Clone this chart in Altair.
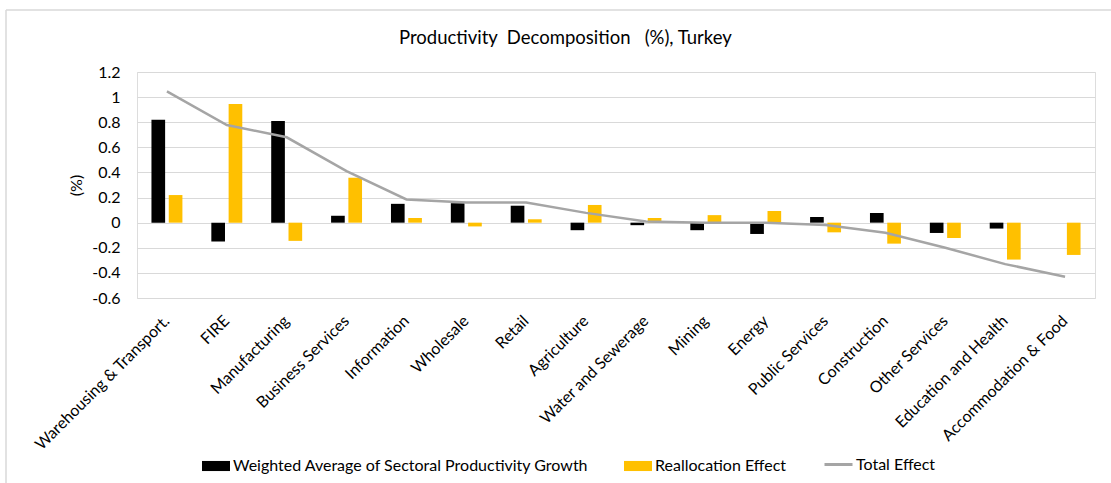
import altair as alt
import pandas as pd

categories = [
    "Warehousing & Transport.", "FIRE", "Manufacturing", "Business Services",
    "Information", "Wholesale", "Retail", "Agriculture", "Water and Sewerage",
    "Mining", "Energy", "Public Services", "Construction", "Other Services",
    "Education and Health", "Accommodation & Food",
]
weighted = [0.82, -0.15, 0.81, 0.055, 0.15, 0.155, 0.135, -0.06, -0.02, -0.06,
            -0.09, 0.045, 0.077, -0.082, -0.047, 0.0]
realloc = [0.22, 0.945, -0.145, 0.358, 0.037, -0.03, 0.027, 0.141, 0.037, 0.06,
           0.093, -0.077, -0.167, -0.122, -0.294, -0.257]
total = [1.045, 0.778, 0.68, 0.41, 0.185, 0.16, 0.16, 0.078, 0.01, 0.0,
         0.0, -0.018, -0.08, -0.2, -0.33, -0.43]
series_names = ["Weighted Average of Sectoral Productivity Growth", "Reallocation Effect"]
line_name = "Total Effect"
y_ticks = [-0.6, -0.4, -0.2, 0, 0.2, 0.4, 0.6, 0.8, 1.0, 1.2]

FONT = "Lato"

bars_df = pd.DataFrame({
    "Sector": categories * 2,
    "Series": [series_names[0]] * len(categories) + [series_names[1]] * len(categories),
    "Value": weighted + realloc,
})
line_df = pd.DataFrame({"Sector": categories, "Series": line_name, "Value": total})
frame_df = pd.DataFrame({"k": [0]})

x_axis = alt.Axis(
    title=None, labelAngle=-45, labelAlign="right", labelBaseline="middle",
    labelPadding=20, labelFontSize=16, labelFont=FONT, labelColor="#000000",
    domain=False, ticks=False, grid=False, labelLimit=400, labelOverlap=False,
)
x_scale = alt.Scale(paddingInner=0.483, paddingOuter=0.2415)
y_enc = alt.Y(
    "Value:Q",
    scale=alt.Scale(domain=[-0.6, 1.2], nice=False, zero=False),
    axis=alt.Axis(
        title="(%)", values=y_ticks,
        labelExpr="toString(round(datum.value*10)/10)",
        labelFontSize=16, labelFont=FONT, labelColor="#000000", labelPadding=17,
        titleFontSize=16, titleFont=FONT, titleFontWeight="normal", titleColor="#000000",
        titlePadding=7, domain=False, ticks=False, grid=True,
        gridColor="#d9d9d9", gridWidth=1.2,
    ),
)

bars = alt.Chart(bars_df).mark_bar().encode(
    x=alt.X("Sector:N", sort=categories, scale=x_scale, axis=x_axis),
    xOffset=alt.XOffset("Series:N", sort=series_names,
                        scale=alt.Scale(paddingInner=0.21, paddingOuter=0)),
    y=y_enc,
    fill=alt.Fill(
        "Series:N", sort=series_names,
        scale=alt.Scale(domain=series_names, range=["#000000", "#FFC000"]),
        legend=alt.Legend(
            title=None, orient="none", legendX=65, legendY=380, direction="horizontal",
            symbolType="M-1,-0.36H1V0.36H-1Z", symbolSize=784, symbolStrokeWidth=0,
            labelFontSize=16, labelFont=FONT, labelColor="#000000", labelOffset=3,
            columnPadding=35, labelLimit=500,
        ),
    ),
)

line = alt.Chart(line_df).mark_line(strokeWidth=2.5).encode(
    x=alt.X("Sector:N", sort=categories, scale=x_scale, axis=x_axis, bandPosition=0.5),
    y=y_enc,
    stroke=alt.Stroke(
        "Series:N",
        scale=alt.Scale(domain=[line_name], range=["#A5A5A5"]),
        legend=alt.Legend(
            title=None, orient="none", legendX=686, legendY=377, direction="horizontal",
            symbolType="stroke", symbolSize=784, symbolStrokeWidth=3,
            labelFontSize=16, labelFont=FONT, labelColor="#000000", labelOffset=2,
        ),
    ),
)

border_top = alt.Chart(frame_df).mark_rule(color="#d9d9d9", strokeWidth=1.5).encode(
    x=alt.value(-131), x2=alt.value(974), y=alt.value(-62)
)
border_left = alt.Chart(frame_df).mark_rule(color="#d9d9d9", strokeWidth=1.5).encode(
    x=alt.value(-131), y=alt.value(-62), y2=alt.value(411)
)

chart = alt.layer(bars, line, border_top, border_left).resolve_scale(
    fill="independent", stroke="independent"
).properties(
    width=958, height=226,
    autosize=alt.AutoSizeParams(type="none"),
    padding={"left": 137, "top": 72, "right": 16, "bottom": 185},
    title=alt.TitleParams(
        "Productivity\u00a0\u00a0Decomposition\u00a0\u00a0\u00a0(%), Turkey",
        fontSize=18.5, font=FONT, fontWeight="normal", color="#000000",
        anchor="start", frame="group", dx=262, offset=-53, baseline="alphabetic",
    ),
).configure_view(stroke=None).configure(background="white")

chart.save("out.html", embed_options={"renderer": "svg", "actions": False})
